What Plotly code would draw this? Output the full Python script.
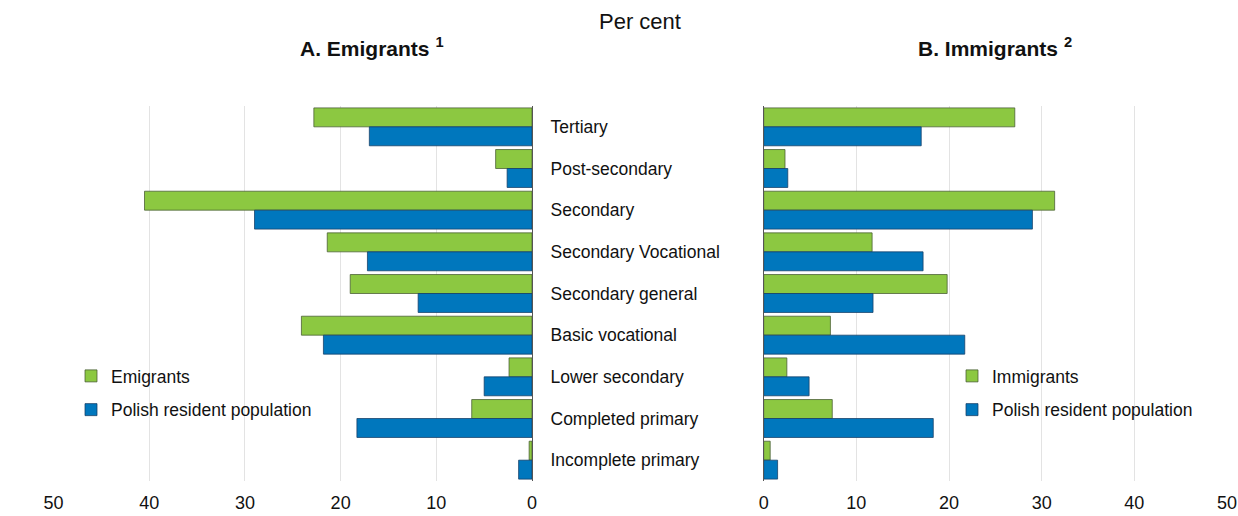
import plotly.graph_objects as go

categories = ["Tertiary", "Post-secondary", "Secondary", "Secondary Vocational",
              "Secondary general", "Basic vocational", "Lower secondary",
              "Completed primary", "Incomplete primary"]
emigrants = [22.8, 3.8, 40.5, 21.4, 19.0, 24.1, 2.4, 6.3, 0.3]
polish_left = [17.0, 2.6, 29.0, 17.2, 11.9, 21.8, 5.0, 18.3, 1.4]
immigrants = [27.1, 2.3, 31.4, 11.7, 19.8, 7.2, 2.5, 7.4, 0.7]
polish_right = [17.0, 2.6, 29.0, 17.2, 11.8, 21.7, 4.9, 18.3, 1.5]
x_ticks = [0, 10, 20, 30, 40, 50]

GREEN = "#8CC841"
BLUE = "#0077BD"
FONT = "Liberation Sans Narrow, Arial Narrow, Liberation Sans, sans-serif"
FS = 17.5

fig = go.Figure()
fig.add_trace(go.Bar(y=categories, x=emigrants, orientation="h", name="Emigrants",
                     marker=dict(color=GREEN, line=dict(color="rgba(70,90,50,0.75)", width=1)),
                     xaxis="x", yaxis="y", legend="legend", legendgroup="a"))
fig.add_trace(go.Bar(y=categories, x=polish_left, orientation="h", name="Polish resident population",
                     marker=dict(color=BLUE, line=dict(color="rgba(20,60,100,0.75)", width=1)),
                     xaxis="x", yaxis="y", legend="legend", legendgroup="b"))
fig.add_trace(go.Bar(y=categories, x=immigrants, orientation="h", name="Immigrants",
                     marker=dict(color=GREEN, line=dict(color="rgba(70,90,50,0.75)", width=1)),
                     xaxis="x2", yaxis="y2", legend="legend2", legendgroup="c"))
fig.add_trace(go.Bar(y=categories, x=polish_right, orientation="h", name="Polish resident population",
                     marker=dict(color=BLUE, line=dict(color="rgba(20,60,100,0.75)", width=1)),
                     xaxis="x2", yaxis="y2", legend="legend2", legendgroup="d"))

W, H = 1238, 516
ytop, ybot = 106, 481
ydom = [1 - ybot / H, 1 - ytop / H]

axis_common = dict(tickvals=x_ticks, showgrid=True, gridcolor="#e3e3e3", gridwidth=1,
                   zeroline=False, showline=False, ticks="", automargin=False,
                   ticklabelstandoff=9,
                   tickfont=dict(family=FONT, size=18, color="#111"), fixedrange=True)

legend_common = dict(xanchor="left", yanchor="top", bgcolor="rgba(0,0,0,0)",
                     tracegroupgap=8, font=dict(family=FONT, size=FS, color="#111"))

fig.update_layout(
    width=W, height=H,
    margin=dict(l=0, r=0, t=0, b=0, autoexpand=False),
    paper_bgcolor="white", plot_bgcolor="white",
    barmode="group", bargap=0.09, bargroupgap=0,
    font=dict(family=FONT, size=FS, color="#111"),
    xaxis=dict(domain=[53.6 / W, 532 / W], range=[50, 0], anchor="y", **axis_common),
    xaxis2=dict(domain=[763.7 / W, 1227 / W], range=[0, 50], anchor="y2", **axis_common),
    yaxis=dict(domain=ydom, anchor="x", side="right", autorange="reversed",
               showline=True, linecolor="#555", linewidth=1, showgrid=False,
               ticks="", ticklabelstandoff=14, automargin=False, fixedrange=True,
               tickfont=dict(family=FONT, size=FS, color="#111")),
    yaxis2=dict(domain=ydom, anchor="x2", autorange="reversed", automargin=False,
                showline=True, linecolor="#555", linewidth=1, showgrid=False,
                showticklabels=False, ticks="", fixedrange=True),
    legend=dict(x=71 / W, y=1 - 358 / H, **legend_common),
    legend2=dict(x=952 / W, y=1 - 358 / H, **legend_common),
    annotations=[
        dict(text="Per cent", x=640 / W, y=1 - 22 / H, xref="paper", yref="paper",
             xanchor="center", yanchor="middle", showarrow=False,
             font=dict(family=FONT, size=22, color="#111")),
        dict(text="<b>A. Emigrants <sup>1</sup></b>", x=372 / W, y=1 - 47 / H,
             xref="paper", yref="paper", xanchor="center", yanchor="middle", showarrow=False,
             font=dict(family=FONT, size=21, color="#111")),
        dict(text="<b>B. Immigrants <sup>2</sup></b>", x=995 / W, y=1 - 47 / H,
             xref="paper", yref="paper", xanchor="center", yanchor="middle", showarrow=False,
             font=dict(family=FONT, size=21, color="#111")),
    ],
)

fig.write_html("out.html", config={"displayModeBar": False},
               post_script="document.body.style.margin='0px';")
